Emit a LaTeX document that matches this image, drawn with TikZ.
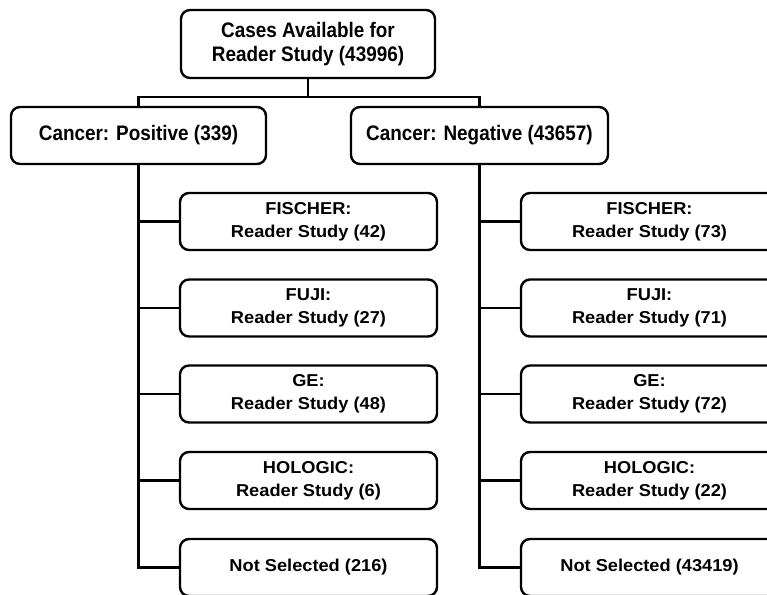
\documentclass[tikz,border=0pt]{standalone}
\usepackage{fontspec}
\setmainfont{Liberation Sans}
\newfontfamily\bigf[FakeStretch=0.9]{Liberation Sans}
\newfontfamily\smf[FakeStretch=1.06]{Liberation Sans}
\begin{document}
\begin{tikzpicture}[x=1pt,y=-1pt,
  box/.style={draw,line width=2.4pt,rounded corners=9pt,inner sep=0pt,align=center},
  topbox/.style={box,font=\bigf\bfseries\fontsize{21}{24}\selectfont},
  catbox/.style={box,minimum width=255pt,minimum height=57pt,font=\bigf\bfseries\fontsize{21}{24}\selectfont},
  subbox/.style={box,minimum width=257pt,minimum height=57pt,font=\smf\bfseries\fontsize{17.2}{23}\selectfont},
  link/.style={line width=2.4pt,line join=miter}]
\useasboundingbox (0,0) rectangle (767,594);
\clip (0,0) rectangle (767,594);
\node[topbox,minimum width=254pt,minimum height=68pt] (top) at (308,44) {Cases Available for\\Reader Study (43996)};
\node[catbox] (pos) at (138.5,135.5) {Cancer: Positive (339)};
\node[catbox,minimum width=257pt] (neg) at (479.5,135.5) {Cancer: Negative (43657)};
\coordinate (j) at (308,97);
\draw[link] (top.south) -- (j);
\draw[link] (pos.north) |- (j) -| (neg.north);
% left column
\node[subbox] (p1) at (308.5,221.5) {FISCHER:\\Reader Study (42)};
\node[subbox] (p2) at (308.5,308) {FUJI:\\Reader Study (27)};
\node[subbox] (p3) at (308.5,394) {GE:\\Reader Study (48)};
\node[subbox] (p4) at (308.5,480.5) {HOLOGIC:\\Reader Study (6)};
\node[subbox] (p5) at (308.5,567.5) {Not Selected (216)};
% right column
\node[subbox] (n1) at (649.5,221.5) {FISCHER:\\Reader Study (73)};
\node[subbox] (n2) at (649.5,308) {FUJI:\\Reader Study (71)};
\node[subbox] (n3) at (649.5,394) {GE:\\Reader Study (72)};
\node[subbox] (n4) at (649.5,480.5) {HOLOGIC:\\Reader Study (22)};
\node[subbox] (n5) at (649.5,567.5) {Not Selected (43419)};
\draw[link] (pos.south) |- (p5.west);
\draw[link] (neg.south) |- (n5.west);
\foreach \i in {1,...,4} {
  \draw[link] (pos.south |- p\i.west) -- (p\i.west);
  \draw[link] (neg.south |- n\i.west) -- (n\i.west);
}
\end{tikzpicture}
\end{document}
